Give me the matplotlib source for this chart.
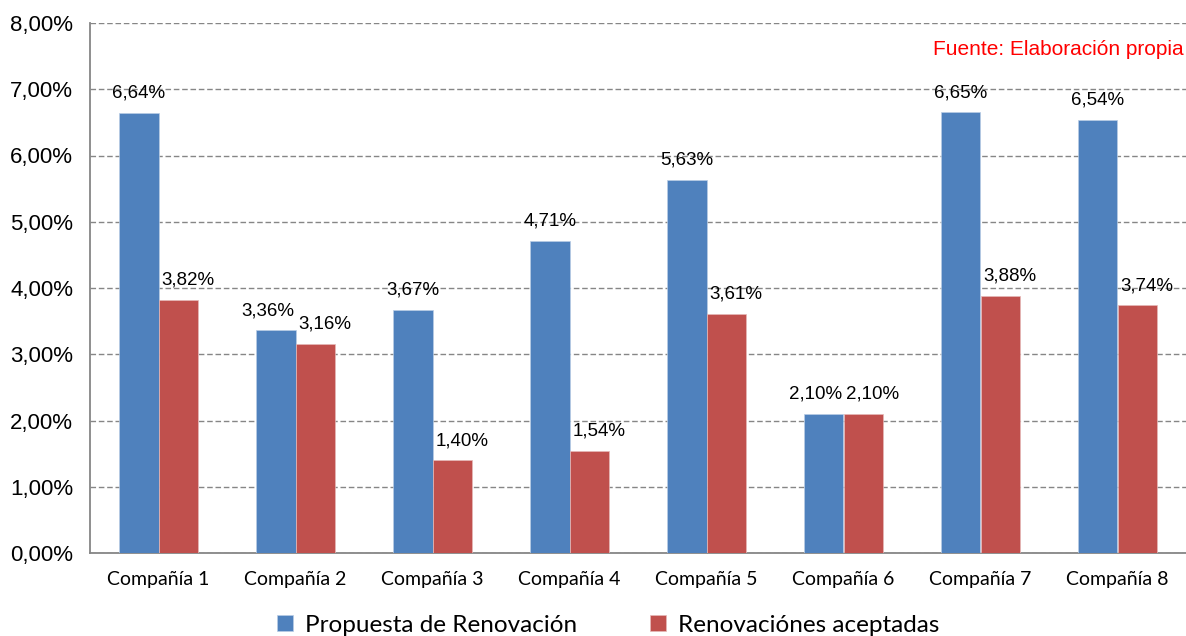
import numpy as np
import matplotlib
matplotlib.use("Agg")
import matplotlib.pyplot as plt
from matplotlib.ticker import FuncFormatter

companias = ["Compañía 1", "Compañía 2", "Compañía 3", "Compañía 4",
             "Compañía 5", "Compañía 6", "Compañía 7", "Compañía 8"]
propuesta = [6.64, 3.36, 3.67, 4.71, 5.63, 2.10, 6.65, 6.54]
aceptadas = [3.82, 3.16, 1.40, 1.54, 3.61, 2.10, 3.88, 3.74]
series_names = ["Propuesta de Renovación", "Renovaciónes aceptadas"]
fuente = "Fuente: Elaboración propia"

azul = "#4F81BD"
rojo = "#C0504D"
gris = "#868686"

fig = plt.figure(figsize=(11.86, 6.36), dpi=100)
ax = fig.add_axes([90 / 1186, 1 - 553 / 636, 1 - 90 / 1186, 530 / 636])

x = np.arange(len(companias))
w = 1 / 3.5
b1 = ax.bar(x - w / 2, propuesta, w, color=azul, edgecolor="#B9CDE5", linewidth=0.5, zorder=3)
b2 = ax.bar(x + w / 2, aceptadas, w, color=rojo, edgecolor="#E6B9B8", linewidth=0.5, zorder=3)

ax.set_xlim(-0.5, len(companias) - 0.5)
ax.set_ylim(0, 8)
ax.set_yticks(np.arange(0, 9, 1))
ax.yaxis.set_major_formatter(FuncFormatter(lambda v, p: ("%.2f%%" % v).replace(".", ",")))
ax.grid(axis="y", color=gris, linestyle=(0, (4, 2)), linewidth=1.0, zorder=0)
ax.set_axisbelow(True)

for s in ["top", "right"]:
    ax.spines[s].set_visible(False)
for s in ["left", "bottom"]:
    ax.spines[s].set_color(gris)
    ax.spines[s].set_linewidth(1.3)

ax.set_xticks(x)
ax.set_xticklabels(companias, fontfamily="Lato", fontsize=14)
ax.tick_params(axis="x", length=0, pad=13)
ax.tick_params(axis="y", length=0, pad=12)
for t in ax.get_yticklabels():
    t.set_fontfamily("Liberation Sans")
    t.set_fontsize(16)

def fmt(v):
    return ("%.2f%%" % v).replace(".", ",")

# blue labels mostly centred, red ones pushed a little right
for i, bar in enumerate(b1):
    dx = 0
    if abs(propuesta[i] - aceptadas[i]) < 0.4:
        dx = -6
    ax.annotate(fmt(propuesta[i]), (bar.get_x() + bar.get_width() / 2, bar.get_height()),
                xytext=(dx, 8), textcoords="offset points", ha="center", va="bottom",
                fontfamily="Liberation Sans", fontsize=13.5)
for i, bar in enumerate(b2):
    ax.annotate(fmt(aceptadas[i]), (bar.get_x() + bar.get_width() / 2, bar.get_height()),
                xytext=(7, 8), textcoords="offset points", ha="center", va="bottom",
                fontfamily="Liberation Sans", fontsize=13.5)

ax.text(0.998, 0.95, fuente, transform=ax.transAxes, ha="right", va="center",
        color="red", fontfamily="Liberation Sans", fontsize=15)

leg = fig.legend([b1, b2], series_names, loc="center", bbox_to_anchor=(608 / 1186, 1 - 625 / 636),
                 ncol=2, frameon=False, prop={"family": "Lato", "size": 17.5},
                 handlelength=0.65, handleheight=0.65, handletextpad=0.5, columnspacing=3.0)

fig.savefig("out.png", dpi=100)
